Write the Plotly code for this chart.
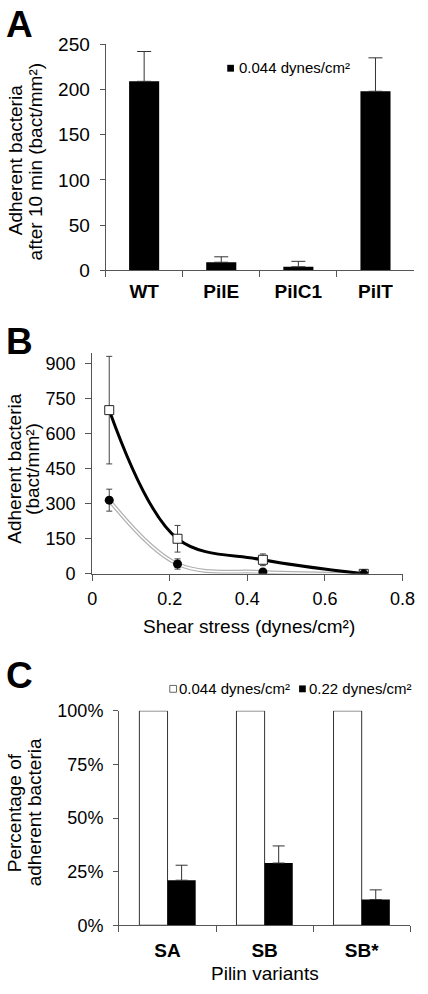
import plotly.graph_objects as go

W, H = 428, 994

# ---------------- data ----------------
# Panel A
strainsA = ["WT", "PilE", "PilC1", "PilT"]
adhA = [209, 9, 4, 198]
errA = [33, 6, 6, 37]

# Panel B
shear = [0.044, 0.22, 0.44, 0.7]
adh_open = [700, 150, 60, 0]
err_open = [230, 57, 25, 0]
adh_filled = [315, 42, 8, 0]
err_filled = [47, 22, 0, 0]

# Panel C
variants = ["SA", "SB", "SB*"]
pct_044 = [1.0, 1.0, 1.0]
pct_022 = [0.21, 0.29, 0.12]
err_022 = [0.07, 0.08, 0.045]

yticksA = [0, 50, 100, 150, 200, 250]
yticksB = [0, 150, 300, 450, 600, 750, 900]
yticksC = [0, 0.25, 0.5, 0.75, 1.0]

FONT = "Liberation Sans, Arial, sans-serif"
AX = "#555555"


def px(x):
    return x / W


def py(y):
    return 1 - y / H


fig = go.Figure()

# ---------- Panel A ----------
fig.add_trace(go.Bar(
    x=strainsA, y=adhA, xaxis="x", yaxis="y",
    marker=dict(color="black", line=dict(width=0)), width=0.39,
    error_y=dict(type="data", array=errA, arrayminus=[0] * len(errA), symmetric=False,
                 color="#333333", thickness=1, width=7),
))

# ---------- Panel B ----------
fig.add_trace(go.Scatter(
    x=shear, y=adh_filled, xaxis="x2", yaxis="y2", mode="lines",
    line=dict(color="#b0b0b0", width=4, shape="spline", smoothing=1.0),
))
fig.add_trace(go.Scatter(
    x=shear, y=adh_filled, xaxis="x2", yaxis="y2", mode="lines",
    line=dict(color="white", width=1.5, shape="spline", smoothing=1.0),
))
fig.add_trace(go.Scatter(
    x=shear, y=adh_open, xaxis="x2", yaxis="y2", mode="lines",
    line=dict(color="black", width=3, shape="spline", smoothing=1.0),
))
fig.add_trace(go.Scatter(
    x=shear, y=adh_open, xaxis="x2", yaxis="y2", mode="markers",
    marker=dict(symbol="square", size=9, color="white", line=dict(color="#222222", width=1)),
    error_y=dict(type="data", array=err_open, color="#444444", thickness=1, width=3),
))
fig.add_trace(go.Scatter(
    x=shear, y=adh_filled, xaxis="x2", yaxis="y2", mode="markers",
    marker=dict(symbol="circle", size=9, color="black", line=dict(width=0)),
    error_y=dict(type="data", array=err_filled, color="#444444", thickness=1, width=3),
))

# ---------- Panel C ----------
fig.add_trace(go.Bar(
    x=variants, y=pct_044, xaxis="x3", yaxis="y3",
    marker=dict(color="white", line=dict(color="#333333", width=1)),
    width=0.29, offset=-0.29,
))
fig.add_trace(go.Bar(
    x=variants, y=pct_022, xaxis="x3", yaxis="y3",
    marker=dict(color="black", line=dict(width=0)),
    width=0.29, offset=0.0,
    error_y=dict(type="data", array=err_022, arrayminus=[0] * len(err_022), symmetric=False,
                 color="#333333", thickness=1, width=6),
))

axis_common = dict(showline=True, linecolor=AX, linewidth=1, ticks="outside",
                   tickcolor=AX, tickwidth=1, showgrid=False, zeroline=False,
                   fixedrange=True)

fig.update_layout(
    width=W, height=H,
    margin=dict(l=0, r=0, t=0, b=0),
    paper_bgcolor="white", plot_bgcolor="white",
    showlegend=False, barmode="overlay",
    font=dict(family=FONT, color="black", size=18),
    xaxis=dict(domain=[px(105), px(427)], anchor="y", type="category",
               range=[-0.5, 3.5], tickson="boundaries", ticklen=6,
               tickfont=dict(family=FONT, size=19, weight="bold"),
               ticklabelstandoff=4, **axis_common),
    yaxis=dict(domain=[py(266), py(35)], anchor="x", range=[0, 250],
               tickvals=yticksA, ticklen=5, tickfont=dict(family=FONT, size=19),
               ticklabelstandoff=6, **axis_common),
    xaxis2=dict(domain=[px(91), px(415)], anchor="y2", range=[0, 0.8],
                tickvals=[0, 0.2, 0.4, 0.6, 0.8], ticktext=["0", "0.2", "0.4", "0.6", "0.8"],
                ticklen=6, tickfont=dict(family=FONT, size=18), ticklabelstandoff=3,
                **axis_common),
    yaxis2=dict(domain=[py(576), py(350)], anchor="x2", range=[0, 946],
                tickvals=yticksB, ticklen=6, tickfont=dict(family=FONT, size=18),
                ticklabelstandoff=6, **axis_common),
    xaxis3=dict(domain=[px(119), px(423)], anchor="y3", type="category",
                range=[-0.5, 2.5], tickson="boundaries", ticklen=6,
                tickfont=dict(family=FONT, size=19, weight="bold"),
                ticklabelstandoff=8, **axis_common),
    yaxis3=dict(domain=[py(935), py(716)], anchor="x3", range=[0, 1],
                tickvals=yticksC, tickformat=".0%", ticklen=5,
                tickfont=dict(family=FONT, size=18), ticklabelstandoff=6,
                **axis_common),
)

ann = []


def add_text(text, x, y, size, xanchor="center", yanchor="middle", angle=0, bold=False):
    f = dict(family=FONT, size=size, color="black")
    if bold:
        f["weight"] = "bold"
    ann.append(dict(text=text, x=px(x), y=py(y), xref="paper", yref="paper",
                    xanchor=xanchor, yanchor=yanchor, textangle=angle, showarrow=False,
                    font=f))


# Panel letters
add_text("A", -1, 15, 37, xanchor="left", bold=True)
add_text("B", -1, 339, 37, xanchor="left", bold=True)
add_text("C", -1, 680, 37, xanchor="left", bold=True)

# Axis titles (one annotation per line)
add_text("Adherent bacteria", 11, 154, 19, angle=-90)
add_text("after 10 min (bact/mm²)", 32, 155, 19, angle=-90)
add_text("Adherent bacteria", 9, 469, 19, angle=-90)
add_text("(bact/mm²)", 28, 469, 19, angle=-90)
add_text("Shear stress (dynes/cm²)", 255, 630, 19)
add_text("Percentage of", 10, 820, 19, angle=-90)
add_text("adherent bacteria", 31, 820, 19, angle=-90)
add_text("Pilin variants", 271, 984, 19)

# Legends
add_text("0.044 dynes/cm²", 242, 59, 15, xanchor="left")
add_text("0.044 dynes/cm²", 180, 693, 15, xanchor="left")
add_text("0.22 dynes/cm²", 315, 693, 15, xanchor="left")

shapes = [
    dict(type="rect", xref="paper", yref="paper", x0=px(232), x1=px(239), y0=py(63), y1=py(56),
         fillcolor="black", line=dict(width=0)),
    dict(type="rect", xref="paper", yref="paper", x0=px(172), x1=px(179), y0=py(697), y1=py(690),
         fillcolor="white", line=dict(color="#666666", width=1)),
    dict(type="rect", xref="paper", yref="paper", x0=px(307), x1=px(314), y0=py(697), y1=py(690),
         fillcolor="black", line=dict(width=0)),
]

fig.update_layout(annotations=ann, shapes=shapes)

fig.write_html(
    "out.html",
    config={"displayModeBar": False},
    post_script="document.body.style.margin='0px';document.body.style.overflow='hidden';",
)
